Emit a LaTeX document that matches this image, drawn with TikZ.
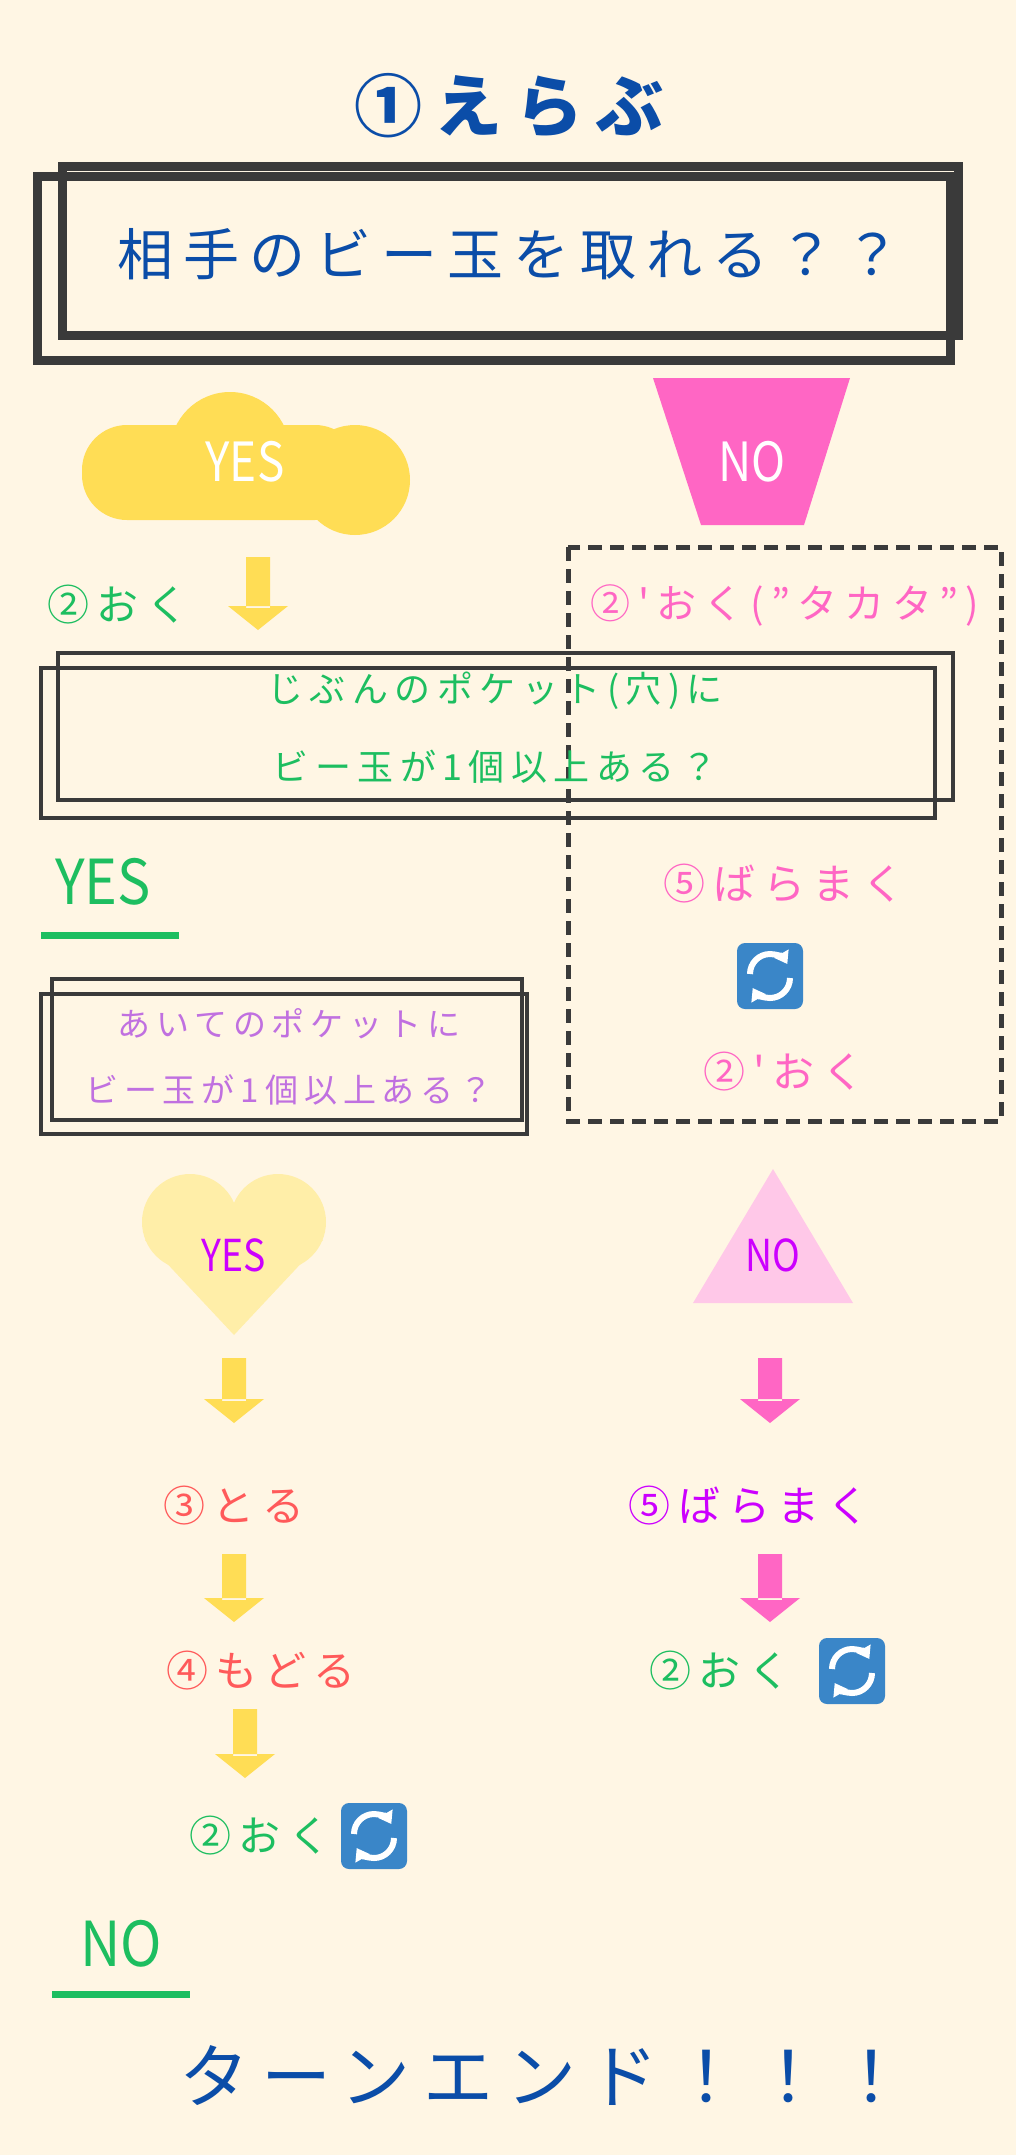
\documentclass[tikz,border=0pt]{standalone}
\usepackage{fontspec}
\setmainfont{Noto Sans CJK JP}
\newfontfamily\wide[LetterSpace=18]{Noto Sans CJK JP}
\usetikzlibrary{arrows.meta}
\definecolor{bg}{HTML}{FFF6E4}
\definecolor{tblue}{HTML}{0B4DA8}
\definecolor{tgreen}{HTML}{1DBE60}
\definecolor{tpink}{HTML}{FF66C4}
\definecolor{tyellow}{HTML}{FFDD55}
\definecolor{dk}{HTML}{3A3A3A}
\definecolor{lyel}{HTML}{FFEEA8}
\definecolor{lpink}{HTML}{FFC8E8}
\definecolor{tpurp}{HTML}{CC00FF}
\definecolor{lpurp}{HTML}{C070E0}
\definecolor{tred}{HTML}{FF5A5A}
\definecolor{iconb}{HTML}{3A86C8}
\newcommand\barrow[4]{\fill[#4] (#1-12,#2) rectangle (#1+12,#3-22) (#1-30,#3-24) -- (#1+30,#3-24) -- (#1,#3) -- cycle;}
\newcommand\refr[2]{%
\fill[iconb,rounded corners=8pt] (#1-33,#2-33) rectangle (#1+33,#2+33);
\draw[white,line width=6pt,-{Triangle[length=12pt,width=16pt]}] (#1+20,#2+2) arc[start angle=0,end angle=150,radius=20];
\draw[white,line width=6pt,-{Triangle[length=12pt,width=16pt]}] (#1-20,#2-2) arc[start angle=180,end angle=330,radius=20];}
\tikzset{lbl/.style={font=\wide\fontsize{42}{46}\selectfont,inner sep=0pt},
box/.style={draw=dk,line width=4pt},
sm/.style={inner sep=0pt,align=center}}
\begin{document}
\begin{tikzpicture}[x=1pt,y=-1pt]
\fill[bg] (0,0) rectangle (1016,2155);
\useasboundingbox (0,0) rectangle (1016,2155);
\node[font=\wide\fontsize{68}{72}\selectfont\bfseries,text=tblue] (title) at (509,106) {①えらぶ};
\draw[draw=dk,line width=9pt] (37,176) rectangle (950,360);
\draw[draw=dk,line width=9pt] (62,166) rectangle (958,335);
\node[font=\wide\fontsize{56}{60}\selectfont,text=tblue] (q1) at (509,254) {相手のビー玉を取れる？？};
% cloud
\fill[tyellow,rounded corners=45pt] (82,425) rectangle (360,520);
\fill[tyellow] (230,452) circle (60) (355,480) circle (55);
\node[font=\fontsize{54}{56}\selectfont,text=white,xscale=0.85] (yes1) at (245,462) {YES};
% trapezoid
\fill[tpink] (653,378) -- (850,378) -- (804,525) -- (701,525) -- cycle;
\node[font=\fontsize{54}{56}\selectfont,text=white,xscale=0.85] (no1) at (752,462) {NO};
\barrow{258}{557}{630}{tyellow}
\node[lbl,text=tgreen] (ok1) at (118,605) {②おく};
\draw[dk,line width=5pt,dash pattern=on 14pt off 8pt] (568,547) rectangle (1001,1121);
\node[lbl,text=tpink,font=\wide\fontsize{40}{44}\selectfont] (ok2) at (785,605) {②'おく(”タカタ”)};
\draw[box] (41,668) rectangle (935,818);
\draw[box] (58,653) rectangle (953,800);
\node[sm,text=tgreen,font=\wide\fontsize{36}{78}\selectfont] (q2) at (495,728) {じぶんのポケット(穴)に\\ビー玉が1個以上ある？};
\node[font=\fontsize{62}{64}\selectfont,text=tgreen,xscale=0.9] (yes2) at (103,882) {YES};
\draw[tgreen,line width=7pt] (41,935) -- (179,935);
\node[lbl,text=tpink] (bm1) at (784,884) {⑤ばらまく};
\refr{770}{976}
\node[lbl,text=tpink] (ok3) at (784,1072) {②'おく};
\draw[box] (41,994) rectangle (527,1134);
\draw[box] (52,979) rectangle (522,1120);
\node[sm,text=lpurp,font=\wide\fontsize{33}{66}\selectfont] (q3) at (289,1057) {あいてのポケットに\\ビー玉が1個以上ある？};
% heart
\fill[lyel] (190,1222) circle (48) (278,1222) circle (48);
\fill[lyel] (145,1240) -- (323,1240) -- (234,1335) -- cycle;
\node[font=\fontsize{44}{46}\selectfont,text=tpurp,xscale=0.85] (yes3) at (234,1255) {YES};
\fill[lpink] (773,1169) -- (853,1303) -- (693,1303) -- cycle;
\node[font=\fontsize{44}{46}\selectfont,text=tpurp,xscale=0.85] (no3) at (773,1255) {NO};
\barrow{234}{1358}{1423}{tyellow}
\barrow{770}{1358}{1423}{tpink}
\node[lbl,text=tred] (tr) at (234,1506) {③とる};
\node[lbl,text=tpurp] (bm2) at (749,1506) {⑤ばらまく};
\barrow{234}{1554}{1622}{tyellow}
\barrow{770}{1554}{1622}{tpink}
\node[lbl,text=tred] (md) at (261,1671) {④もどる};
\node[lbl,text=tgreen] (ok4) at (720,1671) {②おく};
\refr{852}{1671}
\barrow{245}{1709}{1778}{tyellow}
\node[lbl,text=tgreen] (ok5) at (260,1836) {②おく};
\refr{374}{1836}
\node[font=\fontsize{62}{64}\selectfont,text=tgreen,xscale=0.9] (no5) at (121,1944) {NO};
\draw[tgreen,line width=7pt] (52,1994) -- (190,1994);
\node[font=\wide\fontsize{70}{74}\selectfont,text=tblue] (end) at (543,2076) {ターンエンド！！！};
\end{tikzpicture}
\end{document}
